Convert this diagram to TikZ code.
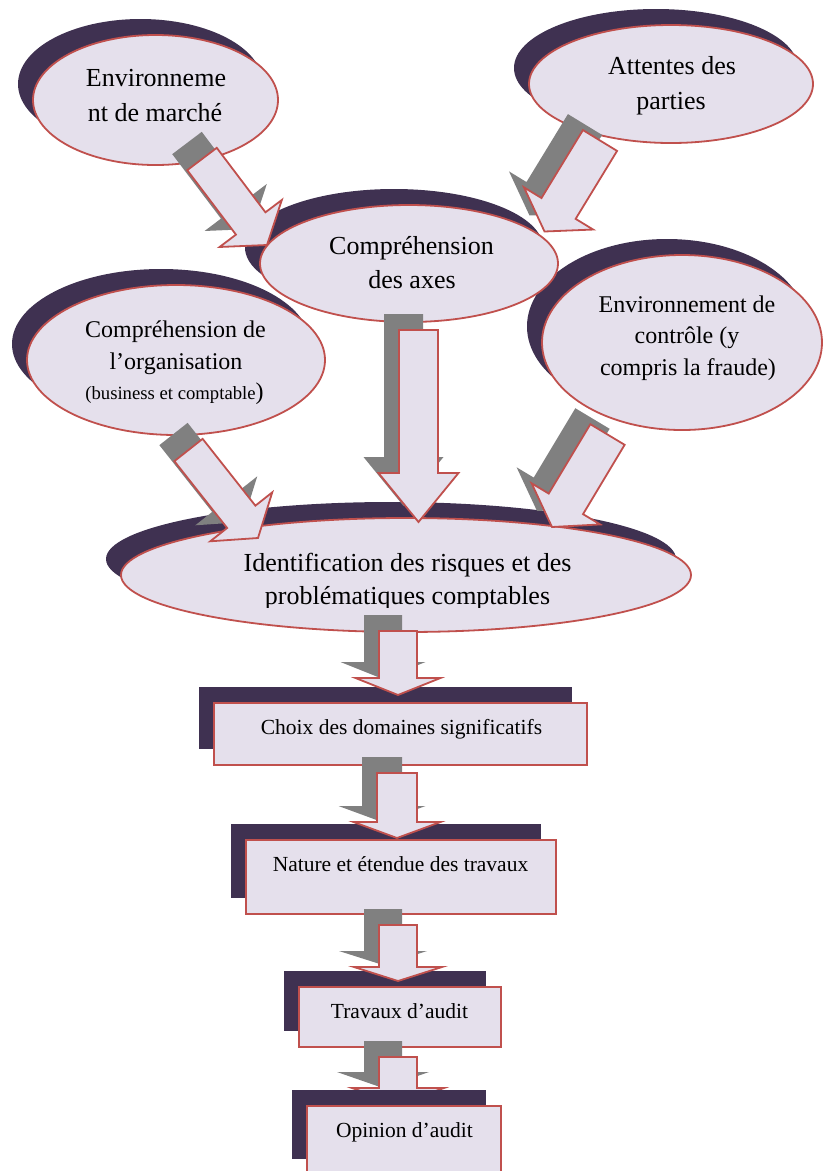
\documentclass[tikz,border=0pt]{standalone}
\usepackage{fontspec}
\setmainfont{Liberation Serif}
\usetikzlibrary{shapes.geometric,shadows,calc}
\definecolor{fillc}{HTML}{E5E0EC}
\definecolor{edgec}{HTML}{C0504D}
\definecolor{shdc}{HTML}{3F3151}
\definecolor{grayc}{HTML}{808080}
\newcommand\ftbig{\fontsize{26pt}{35pt}\selectfont}
\newcommand\ftmid{\fontsize{24pt}{32pt}\selectfont}
\newcommand\ftsmall{\fontsize{18.7pt}{24pt}\selectfont}
\newcommand\ftbox{\fontsize{21.5pt}{28pt}\selectfont}
% #1 style, #2 tail, #3 tip, #4 half shaft width, #5 half head width, #6 head length
\newcommand\blockarrow[6]{%
  \coordinate (bab) at ($(#3)!#6!(#2)$);
  \path[#1] ($(#2)!#4!90:(#3)$) -- ($(bab)!#4!90:(#3)$) -- ($(bab)!#5!90:(#3)$)
    -- (#3) -- ($(bab)!#5!-90:(#3)$) -- ($(bab)!#4!-90:(#3)$) -- ($(#2)!#4!-90:(#3)$) -- cycle;}
\newcommand\shadedarrow[5]{%
  \begin{scope}[transform canvas={shift={(-15,-16)}}]
    \blockarrow{fill=grayc}{#1}{#2}{#3}{#4}{#5}
  \end{scope}
  \blockarrow{fill=fillc,draw=edgec,line width=1.8pt,line join=miter}{#1}{#2}{#3}{#4}{#5}}
\tikzset{
  shd/.style={drop shadow={shadow xshift=-15pt,shadow yshift=16pt,fill=shdc,opacity=1}},
  ell/.style={ellipse,draw=edgec,fill=fillc,line width=1.8pt,inner sep=0pt,shd},
  boxn/.style={rectangle,draw=edgec,fill=fillc,line width=2.2pt,inner sep=0pt,shd},
  txt/.style={anchor=base,inner sep=0pt},
}
\begin{document}
\begin{tikzpicture}[x=1pt,y=-1pt]
\useasboundingbox (0,0) rectangle (824,1171);
\clip (0,0) rectangle (824,1171);
% ellipses
\node[ell,minimum width=245pt,minimum height=130pt] (e1) at (155.5,100) {};
\node[txt,font=\ftbig] (e1a) at (156,86) {Environneme};
\node[txt,font=\ftbig] (e1b) at (155,121) {nt de marché};
\node[ell,minimum width=284pt,minimum height=118pt] (e2) at (671,84) {};
\node[txt,font=\ftbig] (e2a) at (672,74) {Attentes des};
\node[txt,font=\ftbig] (e2b) at (671,109) {parties};
\node[ell,minimum width=280pt,minimum height=175pt] (e5) at (682,342.5) {};
\node[txt,font=\ftmid] (e5a) at (687,312) {Environnement de};
\node[txt,font=\ftmid] (e5b) at (687,343) {contrôle (y};
\node[txt,font=\ftmid] (e5c) at (688,375) {compris la fraude)};
\node[ell,minimum width=298pt,minimum height=150pt] (e4) at (176,360) {};
\node[txt,font=\ftmid] (e4a) at (175.5,337) {Compréhension de};
\node[txt,font=\ftmid] (e4b) at (176,369) {l’organisation};
\node[txt,font=\ftsmall] (e4c) at (174.5,399) {(business et comptable{\ftmid)}};
\node[ell,minimum width=298pt,minimum height=117pt] (e3) at (409,263.5) {};
\node[txt,font=\ftbig] (e3a) at (411.5,254) {Compréhension};
\node[txt,font=\ftbig] (e3b) at (412,288) {des axes};
\node[ell,minimum width=570pt,minimum height=114pt] (e6) at (406,575) {};
\node[txt,font=\ftbig] (e6a) at (407.5,571) {Identification des risques et des};
\begin{scope}
  \clip (100,575) rectangle (720,607);
  \node[txt,font=\ftbig] (e6b) at (407.5,604) {problématiques comptables};
\end{scope}
% boxes
\node[boxn,minimum width=373pt,minimum height=62pt] (b1) at (400.5,734) {};
\node[txt,font=\ftbox] (b1t) at (401.5,734) {Choix des domaines significatifs};
\node[boxn,minimum width=310pt,minimum height=74pt] (b2) at (401,877) {};
\node[txt,font=\ftbox] (b2t) at (400.5,871) {Nature et étendue des travaux};
\node[boxn,minimum width=202pt,minimum height=60pt] (b3) at (400,1017) {};
\node[txt,font=\ftbox] (b3t) at (399.5,1018) {Travaux d’audit};
% arrow end points
\coordinate (a1s) at (202,159);   \coordinate (a1e) at (267,245);
\coordinate (a2s) at (600,140.5); \coordinate (a2e) at (544.5,231.5);
\coordinate (a3s) at (418.5,330); \coordinate (a3e) at (418.5,522);
\coordinate (a4s) at (188.5,450); \coordinate (a4e) at (258,538);
\coordinate (a9s) at (607.5,434.5); \coordinate (a9e) at (552,527);
\coordinate (a5s) at (398,631);   \coordinate (a5e) at (398,695);
\coordinate (a6s) at (397,773);   \coordinate (a6e) at (397,838);
\coordinate (a7s) at (398,925);   \coordinate (a7e) at (398,981);
\coordinate (a8s) at (398,1057);  \coordinate (a8e) at (398,1104);
\shadedarrow{a1s}{a1e}{18.5pt}{39pt}{27pt}
\shadedarrow{a2s}{a2e}{20pt}{40.5pt}{27pt}
\shadedarrow{a3s}{a3e}{19.5pt}{40pt}{49pt}
\shadedarrow{a4s}{a4e}{18pt}{39.5pt}{27pt}
\shadedarrow{a9s}{a9e}{20pt}{40pt}{27pt}
\shadedarrow{a5s}{a5e}{19pt}{42.5pt}{17pt}
\shadedarrow{a6s}{a6e}{20pt}{43.5pt}{16pt}
\shadedarrow{a7s}{a7e}{19pt}{44pt}{14pt}
\shadedarrow{a8s}{a8e}{19pt}{46pt}{16pt}
% last box
\node[boxn,minimum width=194pt,minimum height=69pt] (b4) at (404,1140.5) {};
\node[txt,font=\ftbox] (b4t) at (404.5,1137) {Opinion d’audit};
\end{tikzpicture}
\end{document}
